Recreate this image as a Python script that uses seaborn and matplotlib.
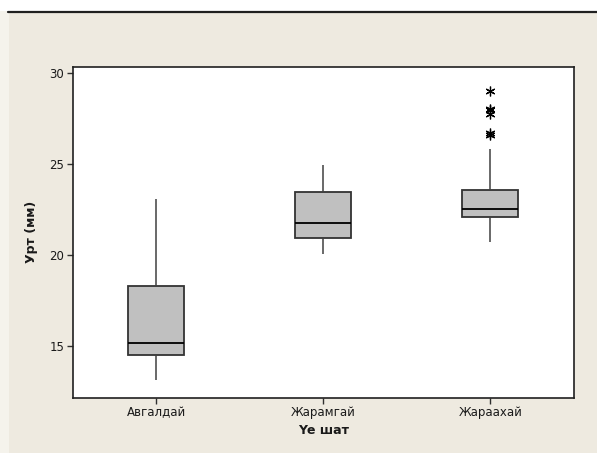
import matplotlib
matplotlib.use("Agg")
import matplotlib.pyplot as plt
from matplotlib.patches import Rectangle
from matplotlib.lines import Line2D
import pandas as pd
import seaborn as sns

# Growth stages (x categories)
stages = ["Авгалдай", "Жарамгай", "Жараахай"]

# Measured length (mm) per stage
avgaldai = [13.13, 14.50, 15.15, 18.31, 23.06]
zharamgai = [20.04, 20.95, 21.78, 23.44, 24.95]
zharaakhai = [20.70, 21.20, 21.50, 21.70, 21.85, 21.95, 22.00,
              22.09, 22.15, 22.20, 22.30, 22.35, 22.40, 22.50,
              22.54, 22.60, 22.70, 22.85, 23.00, 23.20, 23.40,
              23.57, 25.84, 26.62, 26.72, 27.75, 27.98, 28.02, 29.03]

y_ticks = [15, 20, 25, 30]

df = pd.DataFrame({
    "stage": [stages[0]] * len(avgaldai) + [stages[1]] * len(zharamgai)
             + [stages[2]] * len(zharaakhai),
    "length": avgaldai + zharamgai + zharaakhai,
})

sns.set_theme(style="white")
plt.rcParams["font.family"] = ["DejaVu Sans"]

fig = plt.figure(figsize=(5.97, 4.53), dpi=100)
fig.patch.set_facecolor("white")

# Window-style beige panel behind the chart
W, H = 597, 453
fig.patches.append(Rectangle((0, 0), 9 / W, 1 - 11 / H, transform=fig.transFigure,
                             facecolor="#F5F3EC", edgecolor="none", zorder=-3))
fig.patches.append(Rectangle((9 / W, 0), 1 - 9 / W, 1 - 12 / H, transform=fig.transFigure,
                             facecolor="#EEEAE0", edgecolor="none", zorder=-2))
fig.lines.append(Line2D([8 / W, 1], [1 - 11.5 / H, 1 - 11.5 / H], transform=fig.transFigure,
                        color="#202020", linewidth=1.6, zorder=-1))

ax = fig.add_axes([72.7 / W, 1 - 397.5 / H, (574 - 72.7) / W, (397.5 - 66.7) / H])
ax.set_facecolor("white")

sns.boxplot(
    data=df, x="stage", y="length", order=stages, ax=ax,
    color="#C0C0C0", saturation=1, width=0.335, whis=1.6,
    linecolor="#333333", linewidth=1.1,
    medianprops=dict(color="black", linewidth=1.3),
    boxprops=dict(edgecolor="#333333", linewidth=1.3),
    whiskerprops=dict(color="#404040", linewidth=1.1),
    capprops=dict(linewidth=0),
    flierprops=dict(marker=(6, 2, 0), markersize=7, markeredgecolor="black",
                    markerfacecolor="black", markeredgewidth=0.9),
)

ax.set_xlim(-0.5, 2.5)
ax.set_ylim(12.17, 30.35)
ax.set_yticks(y_ticks)
ax.set_yticklabels([str(t) for t in y_ticks])

for s in ax.spines.values():
    s.set_visible(True)
    s.set_color("#202020")
    s.set_linewidth(1.2)

ax.tick_params(axis="both", which="major", direction="out", length=4, width=1,
               color="#303030", labelsize=8.5, labelcolor="#1a1a1a", pad=2,
               bottom=True, left=True)

ax.set_xlabel("Үе шат", fontsize=9, fontweight="bold", color="#1a1a1a", labelpad=4)
ax.set_ylabel("Урт (мм)", fontsize=9, fontweight="bold", color="#1a1a1a", labelpad=8)

fig.savefig("out.png", dpi=100, facecolor=fig.get_facecolor())
